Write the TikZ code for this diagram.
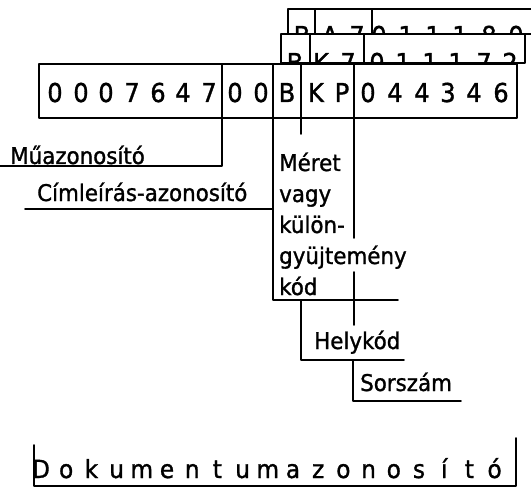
\documentclass[tikz,border=0pt]{standalone}
\usepackage{fontspec}
\setmainfont{DejaVu Sans}[FakeStretch=0.93,FakeBold=1.2]
\begin{document}
\begin{tikzpicture}[x=1pt,y=-1pt,
  rule/.style={line width=1.6pt, line cap=round, line join=round},
  card/.style={rule, fill=white},
  lbl/.style={anchor=base west, inner sep=0pt, font=\fontsize{23}{23}\selectfont},
  digit/.style={anchor=base, inner sep=0pt, font=\fontsize{26}{26}\selectfont},
  spaced/.style={anchor=base, inner sep=0pt, font=\fontsize{25}{25}\selectfont}]
\useasboundingbox (0,0) rectangle (531,487);

% rearmost card, running off to the right; only the tops of its characters show
\draw[card] (545,9) -- (288,9) -- (288,34) -- (545,34);
\draw[rule] (315,9) -- (315,34) (372,9) -- (372,34);
\begin{scope}
  \clip (288,9) rectangle (545,33);
  \foreach \c/\x [count=\i] in {B/302,A/330,7/357,0/379,1/406,1/433,1/460,8/489,0/516}
    \node[digit] (ta\i) at (\x,45) {\c};
\end{scope}

% middle card
\draw[card] (281,34) rectangle (525,63);
\draw[rule] (310,34) -- (310,63) (364,34) -- (364,63);
\begin{scope}
  \clip (281,34) rectangle (525,62);
  \foreach \c/\x [count=\i] in {B/295,K/321,7/348,0/377,1/403,1/430,1/456,7/484,2/510}
    \node[digit] (mb\i) at (\x,72) {\c};
\end{scope}

% front card
\draw[card] (39,64) rectangle (517,118);
\foreach \c/\x [count=\i] in {0/55,0/81,0/106,7/132,6/158,4/183,7/209,
                              0/235,0/261,B/287,K/316,P/342,
                              0/368,4/395,4/422,3/448,4/474,6/501}
  \node[digit] (fc\i) at (\x,102) {\c};

% field boundaries and the brackets hanging from them
\coordinate (d1) at (222,64);
\coordinate (d2) at (273,64);
\coordinate (d3) at (301,64);
\coordinate (d4) at (354,64);

\draw[rule] (d1) -- (222,166) -- (0,166);
\draw[rule] (d2) -- (273,300) -- (398,300);
\draw[rule] (25,209) -- (273,209);
\draw[rule] (d3) -- (301,134);
\draw[rule] (301,300) -- (301,360) -- (404,360);
\draw[rule] (d4) -- (354,238);
\draw[rule] (354,272) -- (354,325);
\draw[rule] (353,361) -- (353,401) -- (461,401);

% field names
\node[lbl] (mu)  at (10,164)  {Műazonosító};
\node[lbl] (cim) at (37,201)  {Címleírás-azonosító};
\node[lbl] (me1) at (279,171) {Méret};
\node[lbl] (me2) at (279,202) {vagy};
\node[lbl] (me3) at (279,233) {külön-};
\node[lbl] (me4) at (279,264) {gyüjtemény};
\node[lbl] (me5) at (279,295) {kód};
\node[lbl] (hely) at (314,349) {Helykód};
\node[lbl] (sor)  at (360,391) {Sorszám};

% spaced caption with its bracket
\foreach \c [count=\i from 0] in {D,o,k,u,m,e,n,t,u,m,a,z,o,n,o,s,í,t,ó}
  \node[spaced] (dk\i) at ({41+25.2*\i},478) {\c};
\draw[rule] (34,445) -- (34,486) -- (516,486) -- (516,438);
\end{tikzpicture}
\end{document}
